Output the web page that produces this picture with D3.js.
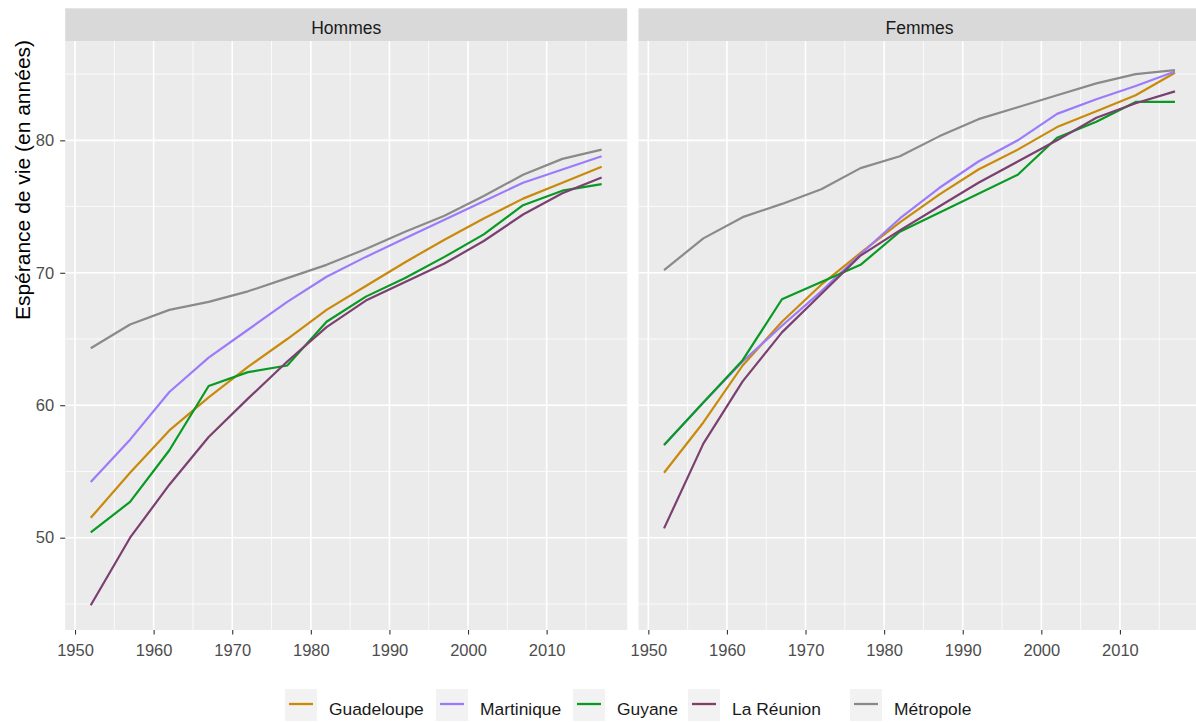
<!DOCTYPE html>
<html>
<head>
<meta charset="utf-8">
<script src="https://cdn.jsdelivr.net/npm/d3@7"></script>
<style>
body { margin: 0; background: #fff; }
svg { display: block; font-family: "Liberation Sans", Arial, sans-serif; }
</style>
</head>
<body>
<svg id="chart"></svg>
<script>
// données
const years = [1952, 1957, 1962, 1967, 1972, 1977, 1982, 1987, 1992, 1997, 2002, 2007, 2012, 2017];

const regions = ['Guadeloupe', 'Martinique', 'Guyane', 'La Réunion', 'Métropole'];
const region_colors = ['#C98A0C', '#9C7BFA', '#089A22', '#7B3F70', '#8A8A8A'];
const sexes = ['Hommes', 'Femmes'];

const hommes_guadeloupe = [51.5, 54.9, 58.1, 60.6, 62.9, 65.0, 67.2, 69.0, 70.8, 72.5, 74.1, 75.6, 76.8, 78.0];
const hommes_martinique = [54.2, 57.4, 61.0, 63.6, 65.7, 67.8, 69.7, 71.2, 72.6, 74.0, 75.4, 76.8, 77.8, 78.8];
const hommes_guyane     = [50.4, 52.7, 56.6, 61.45, 62.5, 63.0, 66.3, 68.2, 69.6, 71.2, 72.9, 75.1, 76.2, 76.7];
const hommes_reunion    = [44.9, 50.0, 54.0, 57.6, 60.5, 63.3, 65.9, 67.9, 69.3, 70.7, 72.4, 74.4, 76.0, 77.2];
const hommes_metropole  = [64.3, 66.1, 67.2, 67.8, 68.6, 69.6, 70.6, 71.8, 73.1, 74.3, 75.8, 77.4, 78.6, 79.3];

const femmes_guadeloupe = [54.9, 58.7, 63.0, 66.3, 69.1, 71.5, 73.8, 75.9, 77.8, 79.3, 81.0, 82.2, 83.4, 85.1];
const femmes_martinique = [57.0, 60.2, 63.3, 66.0, 68.6, 71.4, 74.1, 76.4, 78.4, 80.0, 82.0, 83.1, 84.1, 85.2];
const femmes_guyane     = [57.0, 60.2, 63.4, 68.0, 69.3, 70.6, 73.1, null, null, 77.4, 80.2, 81.4, 82.9, 82.9];
const femmes_reunion    = [50.7, 57.1, 61.8, 65.5, 68.4, 71.3, 73.2, 75.0, 76.8, 78.4, 80.0, 81.7, 82.8, 83.7];
const femmes_metropole  = [70.2, 72.6, 74.2, 75.2, 76.3, 77.9, 78.8, 80.3, 81.6, 82.5, 83.4, 84.3, 85.0, 85.3];

const x_ticks = [1950, 1960, 1970, 1980, 1990, 2000, 2010];
const x_minor = [1955, 1965, 1975, 1985, 1995, 2005, 2015];
const y_ticks = [50, 60, 70, 80];
const y_minor = [45, 55, 65, 75, 85];

const series = {
    Hommes: [hommes_guadeloupe, hommes_martinique, hommes_guyane, hommes_reunion, hommes_metropole],
    Femmes: [femmes_guadeloupe, femmes_martinique, femmes_guyane, femmes_reunion, femmes_metropole]
};

const W = 1196, H = 722;
const panel_x = [65.2, 638.5];
const panel_w = 562;
const strip_top = 8.3, panel_top = 41, panel_bottom = 630;

const svg = d3.select('#chart')
    .attr('width', W)
    .attr('height', H);

svg.append('rect').attr('width', W).attr('height', H).attr('fill', '#fff');

const x = d3.scaleLinear().domain([1948.75, 2020.25]).range([0, panel_w]);
const y = d3.scaleLinear().domain([43.03, 87.5]).range([panel_bottom - panel_top, 0]);

const line = d3.line()
    .x(d => x(d.year))
    .y(d => y(d.value));

sexes.forEach((sex, si) => {
    const g = svg.append('g')
        .attr('transform', `translate(${panel_x[si]},${panel_top})`);

    // strip
    svg.append('rect')
        .attr('x', panel_x[si])
        .attr('y', strip_top)
        .attr('width', panel_w)
        .attr('height', panel_top - strip_top)
        .attr('fill', '#D9D9D9');
    svg.append('text')
        .attr('x', panel_x[si] + panel_w / 2)
        .attr('y', 34.3)
        .attr('text-anchor', 'middle')
        .style('font-size', '17.5px')
        .attr('fill', '#1A1A1A')
        .text(sex);

    g.append('rect')
        .attr('width', panel_w)
        .attr('height', panel_bottom - panel_top)
        .attr('fill', '#EBEBEB');

    // grille
    g.selectAll('.xminor').data(x_minor).join('line')
        .attr('x1', d => x(d)).attr('x2', d => x(d))
        .attr('y1', 0).attr('y2', panel_bottom - panel_top)
        .attr('stroke', '#fff').attr('stroke-width', 0.8);
    g.selectAll('.yminor').data(y_minor).join('line')
        .attr('x1', 0).attr('x2', panel_w)
        .attr('y1', d => y(d)).attr('y2', d => y(d))
        .attr('stroke', '#fff').attr('stroke-width', 0.8);
    g.selectAll('.xmajor').data(x_ticks).join('line')
        .attr('x1', d => x(d)).attr('x2', d => x(d))
        .attr('y1', 0).attr('y2', panel_bottom - panel_top)
        .attr('stroke', '#fff').attr('stroke-width', 1.6);
    g.selectAll('.ymajor').data(y_ticks).join('line')
        .attr('x1', 0).attr('x2', panel_w)
        .attr('y1', d => y(d)).attr('y2', d => y(d))
        .attr('stroke', '#fff').attr('stroke-width', 1.6);

    // courbes
    series[sex].forEach((values, ri) => {
        const pts = years.map((yr, i) => ({year: yr, value: values[i]}))
            .filter(d => d.value !== null);
        g.append('path')
            .datum(pts)
            .attr('d', line)
            .attr('fill', 'none')
            .attr('stroke', region_colors[ri])
            .attr('stroke-width', 2.2)
            .attr('stroke-linejoin', 'round');
    });

    // axe x
    const xa = g.append('g')
        .attr('transform', `translate(0,${panel_bottom - panel_top})`)
        .call(d3.axisBottom(x).tickValues(x_ticks).tickFormat(d3.format('d')).tickSize(4.5).tickPadding(10));
    xa.select('.domain').remove();
    xa.selectAll('line').attr('stroke', '#333333').attr('stroke-width', 1.1);
    xa.selectAll('text').attr('fill', '#4D4D4D').style('font-size', '16.5px').attr('font-family', null);

    if (si === 0) {
        const ya = g.append('g')
            .call(d3.axisLeft(y).tickValues(y_ticks).tickSize(5).tickPadding(6));
        ya.select('.domain').remove();
        ya.selectAll('line').attr('stroke', '#333333').attr('stroke-width', 1.1);
        ya.selectAll('text').attr('fill', '#4D4D4D').style('font-size', '16.5px').attr('font-family', null);
    }
});

// titre axe y
svg.append('text')
    .attr('transform', 'translate(29.5,180) rotate(-90)')
    .attr('text-anchor', 'middle')
    .style('font-size', '21px')
    .attr('fill', '#000')
    .text('Espérance de vie (en années)');

// légende
const legend_x = [285, 436, 573, 688, 850];
const legend = svg.append('g');
regions.forEach((r, i) => {
    const lg = legend.append('g').attr('transform', `translate(${legend_x[i]},689)`);
    lg.append('rect')
        .attr('width', 32).attr('height', 32)
        .attr('fill', '#F2F2F2');
    lg.append('line')
        .attr('x1', 4).attr('x2', 28)
        .attr('y1', 15).attr('y2', 15)
        .attr('stroke', region_colors[i])
        .attr('stroke-width', 2.3);
    lg.append('text')
        .attr('x', 44)
        .attr('y', 26)
        .style('font-size', '17.4px')
        .attr('fill', '#1A1A1A')
        .text(r);
});
</script>
</body>
</html>
